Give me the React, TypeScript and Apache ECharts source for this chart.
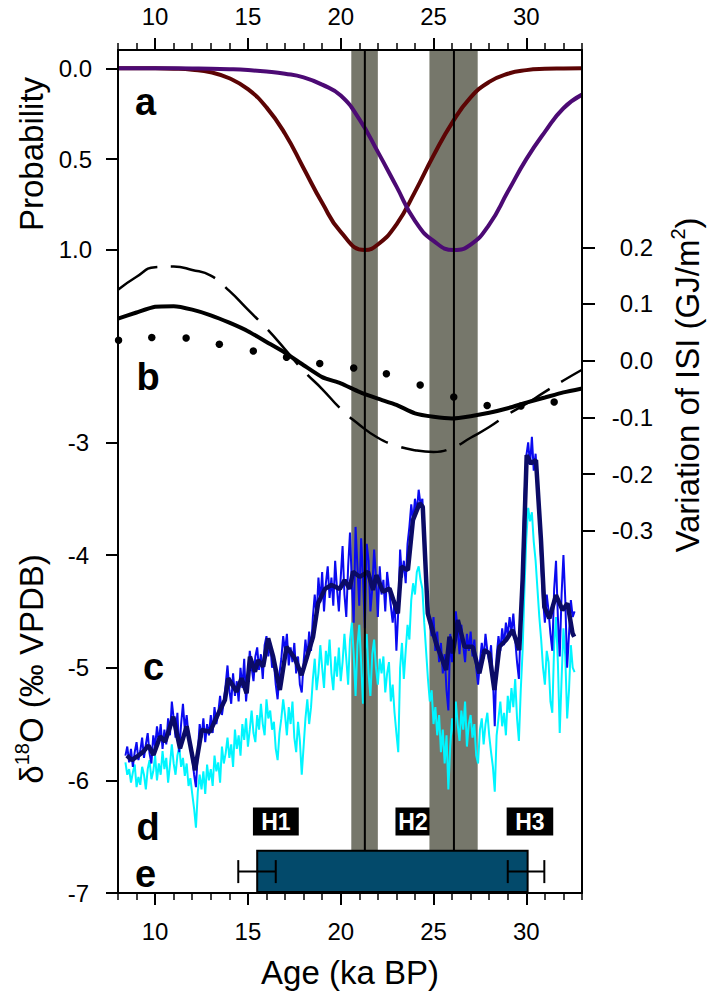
import React, { useEffect, useRef } from 'react';
import * as echarts from 'echarts';

const FONT = '"Liberation Sans", Arial, Helvetica, sans-serif';

// ---- axis ticks ----
const xTicksMajor = [10, 15, 20, 25, 30];
const xTicksMinor = [8, 9, 10, 11, 12, 13, 14, 15, 16, 17, 18, 19, 20, 21, 22, 23, 24, 25, 26, 27, 28, 29, 30, 31, 32, 33];
const probTicks = [0, 0.5, 1.0];
const d18OTicks = [-3, -4, -5, -6, -7];
const isiTicks = [0.2, 0.1, 0.0, -0.1, -0.2, -0.3];

// ---- a: probability curves ----
const probRed = [[8, 0], [9, 0], [10, 0], [11, 0.002], [12, 0.008], [13, 0.022], [14, 0.055], [15, 0.115], [16, 0.215], [17, 0.36], [18, 0.55], [19, 0.74], [20, 0.9], [21.3, 1.0], [22, 0.97], [23, 0.86], [24, 0.68], [25, 0.48], [26, 0.3], [27, 0.16], [28, 0.075], [29, 0.03], [30, 0.01], [31, 0.003], [32, 0.001], [33, 0]];
const probPurple = [[8, 0], [10, 0], [12, 0.001], [13, 0.002], [14, 0.005], [15, 0.01], [16, 0.018], [17, 0.03], [18, 0.05], [19, 0.09], [20, 0.15], [21, 0.28], [22, 0.46], [23, 0.65], [24, 0.84], [25, 0.95], [26.1, 1.0], [27, 0.97], [28, 0.86], [29, 0.68], [30, 0.5], [31, 0.35], [32, 0.22], [33, 0.145]];

// ---- b: ISI variation ----
const isiSolid = [[8, 0.074], [9, 0.085], [10, 0.095], [11, 0.096], [12, 0.09], [13, 0.08], [14, 0.067], [15, 0.052], [16, 0.033], [17, 0.014], [18, -0.008], [19, -0.029], [20, -0.04], [21, -0.055], [22, -0.067], [23, -0.078], [24, -0.093], [25, -0.099], [26, -0.102], [27, -0.098], [28, -0.092], [29, -0.084], [30, -0.074], [31, -0.065], [32, -0.056], [33, -0.049]];
const isiDashed = [[8, 0.125], [9, 0.148], [10, 0.165], [11, 0.166], [12, 0.16], [13, 0.15], [14, 0.123], [15, 0.09], [16, 0.057], [17, 0.02], [18, -0.018], [19, -0.05], [20, -0.085], [21, -0.113], [22, -0.136], [23, -0.15], [24, -0.158], [25, -0.161], [26, -0.154], [27, -0.136], [28, -0.117], [29, -0.095], [30, -0.076], [31, -0.055], [32, -0.035], [33, -0.016]];
const isiDotted = [[8.03, 0.036], [9.82, 0.041], [11.67, 0.04], [13.46, 0.029], [15.29, 0.017], [17.08, 0.006], [18.87, -0.005], [20.7, -0.013], [22.46, -0.023], [24.28, -0.043], [26.09, -0.064], [27.89, -0.079], [29.71, -0.08], [31.5, -0.073]];

// ---- c: d18O records ----
const d18ONavy = [[8.48, -5.78], [8.75, -5.82], [9.01, -5.79], [9.37, -5.745], [9.64, -5.69], [9.91, -5.775], [10.27, -5.61], [10.54, -5.656], [10.98, -5.435], [11.34, -5.715], [11.7, -5.52], [12.15, -5.91], [12.51, -5.553], [12.96, -5.568], [13.32, -5.435], [13.76, -5.287], [13.94, -5.094], [14.39, -5.213], [14.66, -5.094], [14.93, -5.227], [15.11, -4.902], [15.38, -5.036], [15.55, -4.932], [15.82, -4.99], [16.09, -4.739], [16.36, -4.902], [16.72, -5.198], [17.08, -4.814], [17.53, -4.917], [17.89, -5.065], [18.24, -4.872], [18.51, -4.725], [18.78, -4.429], [19.15, -4.3], [19.5, -4.266], [19.95, -4.3], [20.21, -4.222], [20.48, -4.3], [20.66, -4.148], [21.02, -4.193], [21.47, -4.148], [21.74, -4.31], [21.92, -4.178], [22.27, -4.325], [22.63, -4.296], [23.08, -4.518], [23.26, -4.104], [23.62, -4.133], [23.89, -3.69], [24.25, -3.541], [24.42, -3.571], [24.69, -4.518], [25.14, -4.784], [25.68, -5.02], [25.86, -4.725], [26.04, -4.872], [26.31, -4.577], [26.67, -4.814], [27.11, -4.814], [27.47, -5.05], [27.74, -4.843], [28.0, -4.872], [28.28, -5.198], [28.55, -4.814], [28.91, -4.754], [29.26, -4.665], [29.62, -4.843], [29.8, -4.222], [30.02, -3.113], [30.25, -3.186], [30.52, -3.157], [30.79, -3.867], [30.97, -4.459], [31.24, -4.562], [31.6, -4.355], [31.95, -4.488], [32.22, -4.429], [32.49, -4.695], [32.58, -4.725]];
const d18OBlue = [[8.4, -5.78], [8.5, -5.7], [8.6, -5.84], [8.7, -5.72], [8.8, -5.88], [8.9, -5.75], [9.0, -5.66], [9.1, -5.82], [9.2, -5.74], [9.3, -5.62], [9.4, -5.8], [9.5, -5.68], [9.6, -5.58], [9.7, -5.76], [9.8, -5.85], [9.9, -5.6], [10.0, -5.7], [10.1, -5.52], [10.2, -5.66], [10.3, -5.5], [10.4, -5.72], [10.5, -5.55], [10.6, -5.68], [10.7, -5.45], [10.8, -5.6], [10.9, -5.3], [11.0, -5.45], [11.1, -5.62], [11.2, -5.4], [11.3, -5.75], [11.4, -5.5], [11.5, -5.32], [11.6, -5.55], [11.7, -5.42], [11.8, -5.6], [11.9, -5.72], [12.0, -5.8], [12.1, -5.95], [12.2, -6.06], [12.3, -5.75], [12.4, -5.5], [12.5, -5.62], [12.6, -5.45], [12.7, -5.66], [12.8, -5.5], [12.9, -5.6], [13.0, -5.42], [13.1, -5.58], [13.2, -5.35], [13.3, -5.5], [13.4, -5.4], [13.5, -5.25], [13.6, -5.42], [13.7, -5.3], [13.8, -5.15], [13.9, -4.98], [14.0, -5.2], [14.1, -5.32], [14.2, -5.05], [14.3, -5.25], [14.4, -5.12], [14.5, -5.3], [14.6, -5.0], [14.7, -5.18], [14.8, -4.92], [14.9, -5.3], [15.0, -5.1], [15.1, -4.85], [15.2, -5.0], [15.3, -5.12], [15.4, -4.9], [15.5, -4.82], [15.6, -5.02], [15.7, -4.88], [15.8, -5.1], [15.9, -4.8], [16.0, -4.72], [16.1, -4.9], [16.2, -4.78], [16.3, -5.0], [16.4, -4.95], [16.5, -5.15], [16.6, -5.28], [16.7, -5.05], [16.8, -4.92], [16.9, -4.72], [17.0, -4.85], [17.1, -4.7], [17.2, -4.98], [17.3, -4.82], [17.4, -4.95], [17.5, -4.78], [17.6, -5.05], [17.7, -4.9], [17.8, -5.15], [17.9, -5.22], [18.0, -4.95], [18.1, -4.75], [18.2, -4.92], [18.3, -4.68], [18.4, -4.85], [18.5, -4.55], [18.6, -4.35], [18.7, -4.55], [18.8, -4.2], [18.9, -4.42], [19.0, -4.15], [19.1, -4.5], [19.2, -4.25], [19.3, -4.1], [19.4, -4.38], [19.5, -4.2], [19.6, -4.45], [19.7, -4.05], [19.8, -4.3], [19.9, -4.5], [20.0, -4.2], [20.1, -3.92], [20.2, -4.35], [20.3, -4.55], [20.4, -4.1], [20.5, -3.8], [20.6, -4.25], [20.7, -4.6], [20.8, -3.75], [20.9, -4.1], [21.0, -4.45], [21.1, -3.85], [21.2, -4.2], [21.3, -4.65], [21.4, -3.9], [21.5, -4.05], [21.6, -4.5], [21.7, -4.3], [21.8, -3.95], [21.9, -4.2], [22.0, -4.55], [22.1, -4.1], [22.2, -4.35], [22.3, -4.22], [22.4, -4.5], [22.5, -4.15], [22.6, -4.3], [22.7, -4.45], [22.8, -4.6], [22.9, -4.4], [23.0, -4.85], [23.1, -4.5], [23.2, -3.95], [23.3, -4.2], [23.4, -4.05], [23.5, -4.25], [23.6, -3.9], [23.7, -3.75], [23.8, -3.55], [23.9, -3.7], [24.0, -3.5], [24.1, -3.62], [24.2, -3.42], [24.3, -3.55], [24.4, -3.5], [24.5, -3.85], [24.6, -4.2], [24.7, -4.45], [24.8, -4.6], [24.9, -4.72], [25.0, -4.55], [25.1, -4.85], [25.2, -4.68], [25.3, -4.95], [25.4, -4.78], [25.5, -5.05], [25.6, -4.88], [25.7, -5.2], [25.8, -5.38], [25.9, -4.7], [26.0, -4.95], [26.1, -4.75], [26.2, -4.5], [26.3, -4.65], [26.4, -4.88], [26.5, -4.62], [26.6, -4.8], [26.7, -4.95], [26.8, -4.7], [26.9, -4.85], [27.0, -4.68], [27.1, -4.9], [27.2, -4.75], [27.3, -5.0], [27.4, -5.15], [27.5, -4.95], [27.6, -4.78], [27.7, -4.92], [27.8, -4.7], [27.9, -4.85], [28.0, -4.95], [28.1, -4.8], [28.2, -5.1], [28.3, -5.52], [28.4, -4.9], [28.5, -4.72], [28.6, -4.85], [28.7, -4.65], [28.8, -4.8], [28.9, -4.6], [29.0, -4.72], [29.1, -4.55], [29.2, -4.68], [29.3, -4.52], [29.4, -4.75], [29.5, -4.95], [29.6, -5.1], [29.7, -4.6], [29.8, -4.05], [29.9, -3.5], [30.0, -3.12], [30.1, -3.0], [30.2, -3.2], [30.3, -2.95], [30.4, -3.25], [30.5, -3.1], [30.6, -3.35], [30.7, -3.7], [30.8, -4.05], [30.9, -4.4], [31.0, -4.6], [31.1, -4.35], [31.2, -4.5], [31.3, -4.7], [31.4, -4.85], [31.5, -4.3], [31.6, -4.05], [31.7, -4.55], [31.8, -4.9], [31.9, -4.35], [32.0, -4.0], [32.1, -4.4], [32.2, -5.0], [32.3, -4.7], [32.4, -4.4], [32.5, -4.55], [32.6, -4.5]];
const d18OCyan = [[8.4, -5.84], [8.5, -5.95], [8.6, -5.9], [8.7, -6.02], [8.8, -5.93], [8.9, -5.86], [9.0, -6.06], [9.1, -5.97], [9.2, -6.04], [9.3, -5.88], [9.4, -5.95], [9.5, -6.08], [9.6, -5.9], [9.7, -5.82], [9.8, -5.99], [9.9, -5.92], [10.0, -5.78], [10.1, -6.0], [10.2, -5.85], [10.3, -5.95], [10.4, -5.74], [10.5, -5.9], [10.6, -5.8], [10.7, -6.02], [10.8, -5.86], [10.9, -5.68], [11.0, -5.85], [11.1, -5.95], [11.2, -5.78], [11.3, -5.7], [11.4, -5.88], [11.5, -5.8], [11.6, -5.96], [11.7, -5.85], [11.8, -6.05], [11.9, -5.98], [12.0, -6.12], [12.1, -6.25], [12.2, -6.42], [12.3, -6.1], [12.4, -5.95], [12.5, -6.08], [12.6, -5.92], [12.7, -6.12], [12.8, -5.86], [12.9, -6.0], [13.0, -5.9], [13.1, -6.05], [13.2, -5.78], [13.3, -5.92], [13.4, -5.84], [13.5, -6.02], [13.6, -5.7], [13.7, -5.85], [13.8, -5.76], [13.9, -5.62], [14.0, -5.8], [14.1, -5.68], [14.2, -5.88], [14.3, -5.55], [14.4, -5.72], [14.5, -5.6], [14.6, -5.78], [14.7, -5.5], [14.8, -5.64], [14.9, -5.45], [15.0, -5.7], [15.1, -5.55], [15.2, -5.38], [15.3, -5.58], [15.4, -5.66], [15.5, -5.42], [15.6, -5.55], [15.7, -5.32], [15.8, -5.5], [15.9, -5.6], [16.0, -5.28], [16.1, -5.45], [16.2, -5.38], [16.3, -5.55], [16.4, -5.48], [16.5, -5.72], [16.6, -5.82], [16.7, -5.58], [16.8, -5.45], [16.9, -5.28], [17.0, -5.42], [17.1, -5.6], [17.2, -5.35], [17.3, -5.5], [17.4, -5.3], [17.5, -5.62], [17.6, -5.75], [17.7, -5.48], [17.8, -5.65], [17.9, -5.95], [18.0, -5.7], [18.1, -5.45], [18.2, -5.28], [18.3, -5.5], [18.4, -5.35], [18.5, -5.1], [18.6, -4.92], [18.7, -5.2], [18.8, -5.05], [18.9, -4.8], [19.0, -5.0], [19.1, -5.18], [19.2, -4.85], [19.3, -4.98], [19.4, -4.75], [19.5, -5.05], [19.6, -5.2], [19.7, -4.9], [19.8, -5.08], [19.9, -4.82], [20.0, -5.12], [20.1, -4.95], [20.2, -4.7], [20.3, -4.92], [20.4, -5.15], [20.5, -4.75], [20.6, -4.6], [20.7, -4.88], [20.8, -5.25], [20.9, -4.8], [21.0, -4.62], [21.1, -4.95], [21.2, -5.32], [21.3, -4.85], [21.4, -4.7], [21.5, -5.05], [21.6, -5.25], [21.7, -4.88], [21.8, -4.75], [21.9, -5.0], [22.0, -5.15], [22.1, -4.92], [22.2, -5.05], [22.3, -4.9], [22.4, -5.22], [22.5, -5.05], [22.6, -4.95], [22.7, -5.3], [22.8, -5.15], [22.9, -5.4], [23.0, -5.58], [23.1, -5.75], [23.2, -5.0], [23.3, -4.78], [23.4, -5.1], [23.5, -4.85], [23.6, -4.62], [23.7, -4.75], [23.8, -4.4], [23.9, -4.25], [24.0, -4.35], [24.1, -4.15], [24.2, -4.1], [24.3, -4.22], [24.4, -4.3], [24.5, -4.6], [24.6, -4.85], [24.7, -5.1], [24.8, -5.3], [24.9, -5.2], [25.0, -5.5], [25.1, -5.35], [25.2, -5.6], [25.3, -5.42], [25.4, -5.75], [25.5, -5.55], [25.6, -5.85], [25.7, -5.6], [25.8, -6.08], [25.9, -5.7], [26.0, -5.45], [26.1, -5.6], [26.2, -5.3], [26.3, -5.5], [26.4, -5.65], [26.5, -5.38], [26.6, -5.55], [26.7, -5.3], [26.8, -5.7], [26.9, -5.5], [27.0, -5.42], [27.1, -5.62], [27.2, -5.5], [27.3, -5.78], [27.4, -5.85], [27.5, -5.55], [27.6, -5.45], [27.7, -5.68], [27.8, -5.5], [27.9, -5.4], [28.0, -5.6], [28.1, -5.75], [28.2, -5.88], [28.3, -6.1], [28.4, -5.6], [28.5, -5.45], [28.6, -5.3], [28.7, -5.52], [28.8, -5.4], [28.9, -5.6], [29.0, -5.25], [29.1, -5.4], [29.2, -5.18], [29.3, -5.35], [29.4, -5.1], [29.5, -5.45], [29.6, -5.65], [29.7, -5.2], [29.8, -4.85], [29.9, -4.3], [30.0, -3.85], [30.1, -3.58], [30.2, -3.7], [30.3, -3.62], [30.4, -3.88], [30.5, -4.05], [30.6, -4.3], [30.7, -4.55], [30.8, -4.75], [30.9, -5.0], [31.0, -5.15], [31.1, -4.85], [31.2, -4.95], [31.3, -5.3], [31.4, -5.4], [31.5, -4.8], [31.6, -4.55], [31.7, -4.95], [31.8, -5.58], [31.9, -5.1], [32.0, -4.65], [32.1, -4.9], [32.2, -5.45], [32.3, -5.2], [32.4, -4.8], [32.5, -5.0], [32.6, -5.04]];

// ---- shaded intervals and event lines ----
const bands = [[20.57, 22.0], [24.78, 27.38]];
const eventLines = [21.3, 26.1];

// ---- d: Heinrich events ----
const heinrichNames = ['H1', 'H2', 'H3'];
const heinrichStart = [15.27, 22.95, 28.94];
const heinrichEnd = [17.74, 24.84, 31.45];

// ---- e: age span with error bars ----
const eSpan = [15.5, 30.07];
const eErrLeft = [14.48, 16.5];
const eErrRight = [29.0, 30.97];

export default function App() {
  const ref = useRef<HTMLDivElement>(null);
  useEffect(() => {
    if (!ref.current) return;
    const chart = echarts.init(ref.current, null, { renderer: 'svg' });
    const X0 = 8, X1 = 33;
    const tickFont = { color: '#000', fontSize: 24, fontFamily: FONT };
    const lineStyleAxis = { color: '#000', width: 2 };

    const xMajor = (pos: 'top' | 'bottom', id: string) => ({
      id,
      type: 'value',
      position: pos,
      min: X0,
      max: X1,
      z: 10,
      axisLine: { show: true, onZero: false, lineStyle: lineStyleAxis },
      axisTick: { show: true, customValues: xTicksMajor, length: 12, lineStyle: { color: '#000', width: 2 } },
      axisLabel: { show: true, customValues: xTicksMajor, margin: pos === 'top' ? 22 : 26, ...tickFont },
      splitLine: { show: false },
    });
    const xMinor = (pos: 'top' | 'bottom', id: string) => ({
      id,
      type: 'value',
      position: pos,
      min: X0,
      max: X1,
      z: 10,
      axisLine: { show: false, onZero: false },
      axisTick: { show: true, customValues: xTicksMinor, length: 7, lineStyle: { color: '#000', width: 1.5 } },
      axisLabel: { show: false },
      splitLine: { show: false },
    });

    const bandRender = (params: any, api: any) => {
      const cs = params.coordSys;
      const a = api.coord([api.value(0), 0]);
      const b = api.coord([api.value(1), 0]);
      return {
        type: 'rect',
        shape: { x: a[0], y: cs.y + 1, width: b[0] - a[0], height: cs.height - 1 },
        style: { fill: '#76776b' },
      };
    };
    const vlineRender = (params: any, api: any) => {
      const cs = params.coordSys;
      const a = api.coord([api.value(0), 0]);
      return {
        type: 'line',
        shape: { x1: a[0], y1: cs.y, x2: a[0], y2: cs.y + cs.height },
        style: { stroke: '#000', lineWidth: 2 },
      };
    };
    const heinrichRender = (params: any, api: any) => {
      const i = params.dataIndex;
      const p1 = api.coord([api.value(0), -6.24]);
      const p2 = api.coord([api.value(1), -6.49]);
      return {
        type: 'group',
        children: [
          { type: 'rect', shape: { x: p1[0], y: p1[1], width: p2[0] - p1[0], height: p2[1] - p1[1] }, style: { fill: '#000' } },
          {
            type: 'text',
            style: {
              text: heinrichNames[i],
              x: (p1[0] + p2[0]) / 2,
              y: (p1[1] + p2[1]) / 2 + 1,
              fill: '#fff',
              font: 'bold 23px ' + FONT,
              align: 'center',
              verticalAlign: 'middle',
            },
          },
        ],
      };
    };
    const eRender = (params: any, api: any) => {
      const r1 = api.coord([eSpan[0], -6.624]);
      const r2 = api.coord([eSpan[1], -7]);
      const yc = api.coord([eSpan[0], -6.81])[1];
      const l1 = api.coord([eErrLeft[0], -6.81])[0];
      const l2 = api.coord([eErrLeft[1], -6.81])[0];
      const q1 = api.coord([eErrRight[0], -6.81])[0];
      const q2 = api.coord([eErrRight[1], -6.81])[0];
      const h = 11.5;
      const ls = { stroke: '#000', lineWidth: 2 };
      return {
        type: 'group',
        children: [
          { type: 'rect', shape: { x: r1[0], y: r1[1], width: r2[0] - r1[0], height: r2[1] - r1[1] - 1 }, style: { fill: '#034a6b', stroke: '#000', lineWidth: 2 } },
          { type: 'line', shape: { x1: l1, y1: yc, x2: l2, y2: yc }, style: ls },
          { type: 'line', shape: { x1: l1, y1: yc - h, x2: l1, y2: yc + h }, style: ls },
          { type: 'line', shape: { x1: l2, y1: yc - h, x2: l2, y2: yc + h }, style: ls },
          { type: 'line', shape: { x1: q1, y1: yc, x2: q2, y2: yc }, style: ls },
          { type: 'line', shape: { x1: q1, y1: yc - h, x2: q1, y2: yc + h }, style: ls },
          { type: 'line', shape: { x1: q2, y1: yc - h, x2: q2, y2: yc + h }, style: ls },
        ],
      };
    };

    const titleStyle = (text: string, rich?: any) => ({
      text,
      fill: '#000',
      font: '33px ' + FONT,
      align: 'center',
      verticalAlign: 'middle',
      rich,
    });
    const supRich = {
      m: { fontSize: 33, fontFamily: FONT, lineHeight: 38, fill: '#000' },
      s: { fontSize: 20, fontFamily: FONT, lineHeight: 20, verticalAlign: 'top', fill: '#000' },
    };
    const letter = (t: string, x: number, y: number) => ({
      type: 'text',
      x,
      y,
      z: 20,
      style: { text: t, fill: '#000', font: 'bold 38px ' + FONT, align: 'left', verticalAlign: 'middle' },
    });

    const option: any = {
      animation: false,
      backgroundColor: '#fff',
      textStyle: { fontFamily: FONT },
      grid: { left: 118, right: 129, top: 50, bottom: 105, containLabel: false, outerBoundsMode: 'none' },
      xAxis: [xMajor('bottom', 'xb'), xMinor('bottom', 'xbm'), xMajor('top', 'xt'), xMinor('top', 'xtm')],
      yAxis: [
        {
          type: 'value',
          position: 'left',
          inverse: true,
          min: -0.1007,
          max: 4.539,
          z: 10,
          axisLine: { show: true, onZero: false, lineStyle: lineStyleAxis },
          axisTick: { show: true, customValues: probTicks, length: 12, lineStyle: { color: '#000', width: 2 } },
          axisLabel: { show: true, customValues: probTicks, margin: 26, formatter: (v: number) => v.toFixed(1), ...tickFont },
          splitLine: { show: false },
        },
        {
          type: 'value',
          position: 'left',
          min: -7,
          max: 0.484,
          z: 10,
          axisLine: { show: false, onZero: false },
          axisTick: { show: true, customValues: d18OTicks, length: 12, lineStyle: { color: '#000', width: 2 } },
          axisLabel: { show: true, customValues: d18OTicks, margin: 29, formatter: (v: number) => String(Math.round(v)), ...tickFont },
          splitLine: { show: false },
        },
        {
          type: 'value',
          position: 'right',
          min: -0.939,
          max: 0.548,
          z: 10,
          axisLine: { show: true, onZero: false, lineStyle: lineStyleAxis },
          axisTick: { show: true, customValues: isiTicks, length: 13, lineStyle: { color: '#000', width: 2 } },
          axisLabel: { show: true, customValues: isiTicks, margin: 71, align: 'right', formatter: (v: number) => v.toFixed(1), ...tickFont },
          splitLine: { show: false },
        },
      ],
      series: [
        { type: 'custom', name: 'heinrich', xAxisIndex: 0, yAxisIndex: 1, z: 1, renderItem: heinrichRender, data: heinrichStart.map((s, i) => [s, heinrichEnd[i]]) },
        { type: 'custom', name: 'bands', xAxisIndex: 0, yAxisIndex: 1, z: 2, renderItem: bandRender, data: bands },
        { type: 'line', name: 'cyan', xAxisIndex: 0, yAxisIndex: 1, z: 3, data: d18OCyan, showSymbol: false, lineStyle: { color: '#00f5ff', width: 2 } },
        { type: 'line', name: 'blue', xAxisIndex: 0, yAxisIndex: 1, z: 4, data: d18OBlue, showSymbol: false, lineStyle: { color: '#0a0af0', width: 2 } },
        { type: 'line', name: 'navy', xAxisIndex: 0, yAxisIndex: 1, z: 5, data: d18ONavy, showSymbol: false, lineStyle: { color: '#0b0b66', width: 4.5 } },
        { type: 'line', name: 'probRed', xAxisIndex: 0, yAxisIndex: 0, z: 5, data: probRed, smooth: true, showSymbol: false, lineStyle: { color: '#5c0404', width: 4 } },
        { type: 'line', name: 'probPurple', xAxisIndex: 0, yAxisIndex: 0, z: 5, data: probPurple, smooth: true, showSymbol: false, lineStyle: { color: '#4c0a74', width: 4 } },
        { type: 'line', name: 'isiSolid', xAxisIndex: 0, yAxisIndex: 2, z: 5, data: isiSolid, smooth: 0.2, showSymbol: false, lineStyle: { color: '#000', width: 4 } },
        { type: 'line', name: 'isiDashed', xAxisIndex: 0, yAxisIndex: 2, z: 5, data: isiDashed, smooth: true, showSymbol: false, lineStyle: { color: '#000', width: 2.5, type: [46, 14] } },
        { type: 'scatter', name: 'isiDotted', xAxisIndex: 0, yAxisIndex: 2, z: 5, data: isiDotted, symbol: 'circle', symbolSize: 7.5, itemStyle: { color: '#000', opacity: 1 } },
        { type: 'custom', name: 'events', xAxisIndex: 0, yAxisIndex: 1, z: 6, renderItem: vlineRender, data: eventLines.map((v) => [v, 0]) },
        { type: 'custom', name: 'span', xAxisIndex: 0, yAxisIndex: 1, z: 7, renderItem: eRender, data: [[eSpan[0], -6.8]] },
      ],
      graphic: [
        { type: 'text', x: 31, y: 154, rotation: Math.PI / 2, z: 20, style: titleStyle('Probability') },
        { type: 'text', x: 31, y: 669, rotation: Math.PI / 2, z: 20, style: titleStyle('{m|δ}{s|18}{m|O (‰ VPDB)}', supRich) },
        { type: 'text', x: 687, y: 385, rotation: Math.PI / 2, z: 20, style: titleStyle('{m|Variation of ISI (GJ/m}{s|2}{m|)}', supRich) },
        { type: 'text', x: 350, y: 972, z: 20, style: titleStyle('Age (ka BP)') },
        letter('a', 135, 102),
        letter('b', 136.5, 377),
        letter('c', 143, 667),
        letter('d', 136.5, 827),
        letter('e', 135, 874),
      ],
    };
    chart.setOption(option);
    return () => chart.dispose();
  }, []);
  return <div ref={ref} style={{ position: 'fixed', left: 0, top: 0, width: 711, height: 998, background: '#fff' }} />;
}
